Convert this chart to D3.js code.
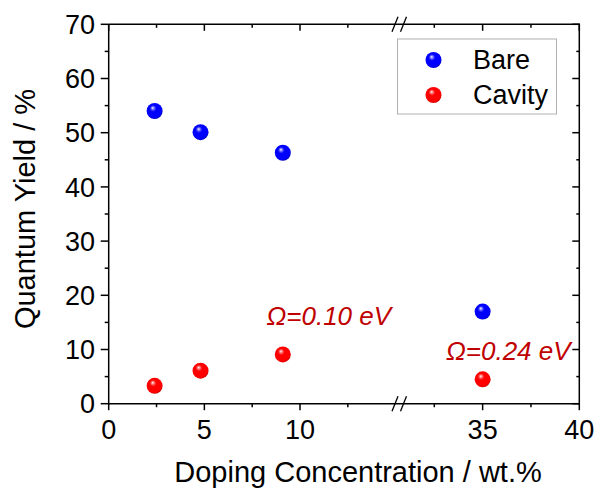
<!DOCTYPE html>
<html><head><meta charset="utf-8">
<script src="https://cdn.jsdelivr.net/npm/d3@7"></script>
<style>body{margin:0;background:#fff}svg{display:block}text{font-family:"Liberation Sans",Arial,sans-serif}</style>
</head><body><svg id="c" width="596" height="489"></svg>
<script>
// ---- data ----
const concentrations = [2.4, 4.8, 9.1, 35];
const bareYield = [54.0, 50.1, 46.3, 17.0];
const cavityYield = [3.3, 6.1, 9.1, 4.5];
const seriesNames = ["Bare", "Cavity"];
const annotations = [
  {text: "Ω=0.10 eV", x: 9.1},
  {text: "Ω=0.24 eV", x: 35}
];
const xMajorLeft = [0, 5, 10], xMinorLeft = [2.5, 7.5, 12.5];
const xMajorRight = [35, 40], xMinorRight = [32.5, 37.5];
const yMajor = [0, 10, 20, 30, 40, 50, 60, 70];
const yMinor = [5, 15, 25, 35, 45, 55, 65];

// ---- layout ----
const L = 108.7, R = 579.3, T = 24.3, B = 403.7, BRK = 399.5;
const svg = d3.select("#c");
const xl = d3.scaleLinear().domain([0, 15.2]).range([L, BRK]);
const xr = d3.scaleLinear().domain([30.7, 40]).range([BRK, R]);
const xPos = v => v < 20 ? xl(v) : xr(v);
const y = d3.scaleLinear().domain([0, 70]).range([B, T]);

// gradients
const defs = svg.append("defs");
function grad(id, c, dark){
  const g = defs.append("radialGradient").attr("id", id)
    .attr("cx", "0.45").attr("cy", "0.42").attr("r", "0.6")
    .attr("fx", "0.38").attr("fy", "0.3");
  g.append("stop").attr("offset", "0").attr("stop-color", "#ffffff");
  g.append("stop").attr("offset", "0.25").attr("stop-color", c).attr("stop-opacity", 0.8);
  g.append("stop").attr("offset", "0.35").attr("stop-color", c);
  g.append("stop").attr("offset", "0.85").attr("stop-color", c);
  g.append("stop").attr("offset", "1").attr("stop-color", dark);
}
grad("gB", "#0000ff", "#0000b0");
grad("gR", "#ff0000", "#c00000");

const ax = svg.append("g").attr("stroke", "#000").attr("stroke-width", 1.5);
// frame
ax.append("line").attr("x1", L).attr("x2", R).attr("y1", B).attr("y2", B);
ax.append("line").attr("x1", L).attr("x2", R).attr("y1", T).attr("y2", T);
ax.append("line").attr("x1", L).attr("x2", L).attr("y1", T).attr("y2", B + 0.75);
ax.append("line").attr("x1", R).attr("x2", R).attr("y1", T - 0.75).attr("y2", B + 0.75);

// x ticks: bottom outward, top inward
function xt(vals, len, fn){
  vals.forEach(v => {
    const px = fn(v);
    ax.append("line").attr("x1", px).attr("x2", px).attr("y1", B).attr("y2", B + len);
    ax.append("line").attr("x1", px).attr("x2", px).attr("y1", T).attr("y2", T + len);
  });
}
xt(xMajorLeft, 6.5, xl); xt(xMinorLeft, 3.5, xl);
xt(xMajorRight, 6.5, xr); xt(xMinorRight, 3.5, xr);
// y ticks: left outward, right inward
function yt(vals, len){
  vals.forEach(v => {
    const py = y(v);
    ax.append("line").attr("x1", L - len).attr("x2", L).attr("y1", py).attr("y2", py);
    ax.append("line").attr("x1", R - len + 1).attr("x2", R).attr("y1", py).attr("y2", py);
  });
}
yt(yMajor, 8); yt(yMinor, 4);

// break marks
[B, T].forEach(yy => {
  [BRK - 4.5, BRK + 4].forEach(cx => {
    ax.append("line").attr("x1", cx - 3).attr("x2", cx + 3)
      .attr("y1", yy + 7.5).attr("y2", yy - 7.5).attr("stroke-width", 1.3);
  });
});

// tick labels
const lab = svg.append("g").attr("font-size", 27).attr("fill", "#000");
xMajorLeft.forEach(v => lab.append("text").attr("x", xl(v)).attr("y", 438.5).attr("text-anchor", "middle").text(v));
xMajorRight.forEach(v => lab.append("text").attr("x", xr(v)).attr("y", 438.5).attr("text-anchor", "middle").text(v));
yMajor.forEach(v => lab.append("text").attr("x", 95).attr("y", y(v) + 9.6).attr("text-anchor", "end").text(v));

// axis titles
svg.append("text").attr("x", 358).attr("y", 482).attr("text-anchor", "middle")
  .attr("font-size", 29).text("Doping Concentration / wt.%");
svg.append("text").attr("transform", "translate(35,209) rotate(-90)").attr("text-anchor", "middle")
  .attr("font-size", 29).text("Quantum Yield / %");

// points
const pts = svg.append("g");
const r = 8;
concentrations.forEach((c, i) => {
  pts.append("circle").attr("cx", xPos(c)).attr("cy", y(bareYield[i])).attr("r", r).attr("fill", "url(#gB)");
  pts.append("circle").attr("cx", xPos(c)).attr("cy", y(cavityYield[i])).attr("r", r).attr("fill", "url(#gR)");
});

// annotations
svg.append("text").attr("x", 266.5).attr("y", 325).attr("font-size", 26).attr("font-style", "italic")
  .attr("fill", "#c00000").text(annotations[0].text);
svg.append("text").attr("x", 446).attr("y", 360).attr("font-size", 26).attr("font-style", "italic")
  .attr("fill", "#c00000").text(annotations[1].text);

// legend
const lg = svg.append("g");
lg.append("rect").attr("x", 397.5).attr("y", 39).attr("width", 159).attr("height", 75)
  .attr("fill", "#fff").attr("stroke", "#b0b0b0").attr("stroke-width", 1);
seriesNames.forEach((n, i) => {
  const yy = 60 + i * 35;
  lg.append("circle").attr("cx", 433.5).attr("cy", yy).attr("r", r).attr("fill", i ? "url(#gR)" : "url(#gB)");
  lg.append("text").attr("x", 473).attr("y", yy + 9).attr("font-size", 27).text(n);
});
</script></body></html>
